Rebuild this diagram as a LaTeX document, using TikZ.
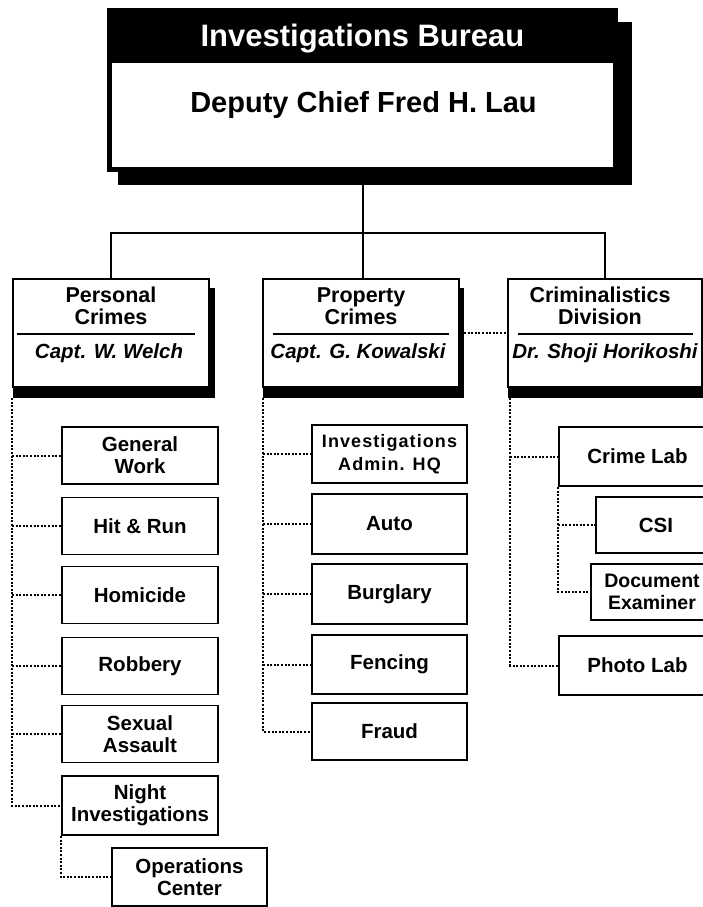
\documentclass[tikz,border=0pt]{standalone}
\usepackage{fontspec}
\setmainfont{Liberation Sans}
\newfontfamily\spacedfont[LetterSpace=6]{Liberation Sans}
\begin{document}
\begin{tikzpicture}[x=1pt,y=-1pt,
  conn/.style={line width=2pt},
  dotline/.style={line width=2pt, dash pattern=on 2pt off 1.6pt},
  subbox/.style={draw, line width=1.8pt, fill=white, inner sep=0pt, align=center,
    font=\bfseries\fontsize{20.5}{22}\selectfont, minimum height=57pt},
  divbox/.style={draw, line width=1.8pt, fill=white, inner sep=0pt, minimum height=108pt},
  divtitle/.style={align=center, inner sep=0pt, font=\bfseries\fontsize{21.5}{22}\selectfont},
  divname/.style={anchor=base, inner sep=0pt, font=\bfseries\itshape\fontsize{20.5}{22}\selectfont},
  divrule/.style={line width=1.5pt},
  shadowfill/.style={fill=black}
]
\useasboundingbox (0,0) rectangle (703,907);
\clip (0,0) rectangle (703,907);

% ---- top box ----
\node[shadowfill, minimum width=514pt, minimum height=163pt, inner sep=0pt] (topsh) at (375,103.5) {};
\node[shadowfill, minimum width=511pt, minimum height=164pt, inner sep=0pt] (top) at (362.5,90) {};
\fill[white] (112,63) rectangle (613,167);
\node[text=white, anchor=base, inner sep=0pt, font=\bfseries\fontsize{31}{34}\selectfont] (bureau) at (362.5,47) {Investigations Bureau};
\node[anchor=base, inner sep=0pt, font=\bfseries\fontsize{29}{32}\selectfont] (chief) at (363.5,112) {Deputy Chief Fred H. Lau};

% ---- division boxes ----
\fill[shadowfill] (13,288) rectangle (215,398);
\node[divbox, minimum width=196pt] (pc) at (111,333) {};
\draw[divrule] (17,334) -- (195,334);
\node[divtitle] (pct) at (111,306) {Personal\\Crimes};
\node[divname] (pcn) at (109,358) {Capt. W. Welch};

\fill[shadowfill] (263,288) rectangle (464,398);
\node[divbox, minimum width=196pt] (prc) at (361,333) {};
\draw[divrule] (273,334) -- (449,334);
\node[divtitle] (prct) at (361,306) {Property\\Crimes};
\node[divname] (prcn) at (358,358) {Capt. G. Kowalski};

\fill[shadowfill] (508,288) rectangle (708,398);
\node[divbox, minimum width=194pt] (crim) at (605,333) {};
\draw[divrule] (518,334) -- (693,334);
\node[divtitle] (crimt) at (600,306) {Criminalistics\\Division};
\node[divname] (crimn) at (605,358) {Dr. Shoji Horikoshi};

% ---- solid connectors ----
\coordinate (bar) at (362.5,233);
\draw[conn] (topsh.south -| top.south) -- (bar);
\draw[conn] (pc.north) |- (bar) -| (crim.north);
\draw[conn] (bar) -- (bar |- prc.north);
\draw[dotline] ([xshift=4pt]prc.east) -- (crim.west);

% ---- Personal Crimes units ----
\node[subbox, minimum width=156pt] (genw) at (140,455.5) {General\\Work};
\node[subbox, minimum width=156pt] (hit) at (140,526) {Hit \& Run};
\node[subbox, minimum width=156pt] (hom) at (140,595) {Homicide};
\node[subbox, minimum width=156pt] (rob) at (140,666) {Robbery};
\node[subbox, minimum width=156pt] (sex) at (140,734) {Sexual\\Assault};
\node[subbox, minimum width=156pt, minimum height=59pt] (night) at (140,805.5) {Night\\Investigations};
\node[subbox, minimum width=155pt, minimum height=58pt] (ops) at (189.5,877) {Operations\\Center};

\coordinate (ptr) at (12,398);
\draw[dotline] (ptr) |- (night.west);
\foreach \n in {genw,hit,hom,rob,sex} \draw[dotline] (ptr |- \n.west) -- (\n.west);
\draw[dotline] (night.south west) |- (ops.west);

% ---- Property Crimes units ----
\node[subbox, minimum width=155pt, minimum height=58pt, font=\spacedfont\bfseries\fontsize{18}{22.5}\selectfont] (adm) at (389.5,454) {Investigations\\Admin. HQ};
\node[subbox, minimum width=155pt, minimum height=60pt] (auto) at (389.5,524) {Auto};
\node[subbox, minimum width=155pt, minimum height=60pt] (burg) at (389.5,594) {Burglary};
\node[subbox, minimum width=155pt, minimum height=59pt] (fenc) at (389.5,664.5) {Fencing};
\node[subbox, minimum width=155pt, minimum height=57pt] (fraud) at (389.5,731.5) {Fraud};

\coordinate (qtr) at (263,398);
\draw[dotline] (qtr) |- (fraud.west);
\foreach \n in {adm,auto,burg,fenc} \draw[dotline] (qtr |- \n.west) -- (\n.west);

% ---- Criminalistics units ----
\node[subbox, minimum width=157pt, minimum height=59pt] (clab) at (637.5,456.5) {Crime Lab};
\node[subbox, minimum width=120pt, minimum height=56pt] (csi) at (656,525) {CSI};
\node[subbox, minimum width=122pt, minimum height=56pt, font=\bfseries\fontsize{19.5}{21.5}\selectfont] (doc) at (652,592) {Document\\Examiner};
\node[subbox, minimum width=157pt, minimum height=59pt] (photo) at (637.5,665.5) {Photo Lab};

\coordinate (ctr) at (510,398);
\draw[dotline] (ctr) |- (photo.west);
\draw[dotline] (ctr |- clab.west) -- (clab.west);
\draw[dotline] (clab.south west) |- (doc.west);
\draw[dotline] (clab.south west |- csi.west) -- (csi.west);
\end{tikzpicture}
\end{document}
